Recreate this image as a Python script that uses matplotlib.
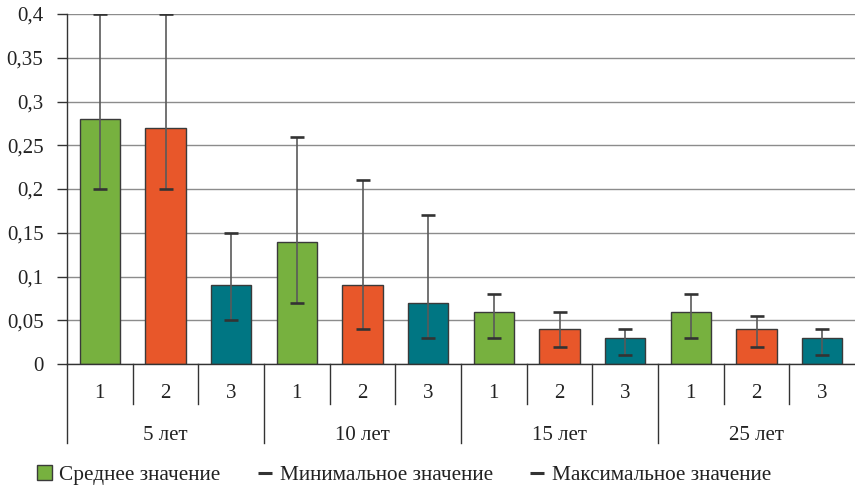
import matplotlib
matplotlib.use("Agg")
import matplotlib.pyplot as plt
from matplotlib.patches import Patch
from matplotlib.lines import Line2D
from matplotlib.ticker import FuncFormatter
import matplotlib.transforms as mtransforms

plt.rcParams['font.family'] = ['Liberation Serif', 'DejaVu Serif']

groups = ["5 лет", "10 лет", "15 лет", "25 лет"]
subcats = ["1", "2", "3"]
mean_vals = [0.28, 0.27, 0.09, 0.14, 0.09, 0.07, 0.06, 0.04, 0.03, 0.06, 0.04, 0.03]
min_vals = [0.20, 0.20, 0.05, 0.07, 0.04, 0.03, 0.03, 0.02, 0.01, 0.03, 0.02, 0.01]
max_vals = [0.40, 0.40, 0.15, 0.26, 0.21, 0.17, 0.08, 0.06, 0.04, 0.08, 0.055, 0.04]
legend_labels = ["Среднее значение", "Минимальное значение", "Максимальное значение"]
yticks = [0, 0.05, 0.1, 0.15, 0.2, 0.25, 0.3, 0.35, 0.4]

colors = ["#77B13F", "#E8572A", "#007683"]
edge = "#3a3a3a"
FS = 15

W, H = 855, 488
fig = plt.figure(figsize=(W / 100, H / 100), dpi=100)
ax = fig.add_axes([67 / W, (H - 364) / H, (W - 67) / W, 350 / H])

n = len(mean_vals)
xs = list(range(n))
bar_colors = [colors[i % 3] for i in range(n)]

ax.set_axisbelow(True)
ax.yaxis.grid(True, color="#8c8c8c", linewidth=1)
ax.bar(xs, mean_vals, width=0.61, color=bar_colors, edgecolor=edge, linewidth=1, zorder=2)

# error bars: vertical line min..max, dark caps
ax.vlines(xs, min_vals, max_vals, color="#5a5a5a", linewidth=1.2, zorder=3)
ax.scatter(xs, min_vals, marker='_', s=100, color="#333333", linewidths=1.9, zorder=4)
ax.scatter(xs, max_vals, marker='_', s=100, color="#333333", linewidths=1.9, zorder=4)

ax.set_xlim(-0.5, n - 0.5)
ax.set_ylim(0, 0.4)
ax.set_yticks(yticks)
ax.yaxis.set_major_formatter(FuncFormatter(lambda v, p: ("%g" % round(v, 2)).replace(".", ",")))
ax.tick_params(axis='y', length=7, width=1, color="#333333", labelsize=FS, pad=10, labelcolor="#222222")

for s in ["top", "right"]:
    ax.spines[s].set_visible(False)
ax.spines["left"].set_color("#333333")
ax.spines["bottom"].set_color("#333333")
ax.spines["left"].set_linewidth(1)
ax.spines["bottom"].set_linewidth(1)

ax.set_xticks([])
trans = mtransforms.blended_transform_factory(ax.transData, ax.transAxes)

# tier 1 labels and separators
for i in range(n):
    ax.text(xs[i], -0.085, subcats[i % 3], transform=trans, ha="center", va="center",
            fontsize=FS, color="#222222")
for k in range(n):
    b = k - 0.5
    y1 = -0.226 if k % 3 == 0 else -0.114
    ax.plot([b, b], [0, y1], transform=trans, color="#333333", linewidth=1, clip_on=False)

for g, name in enumerate(groups):
    ax.text(3 * g + 1, -0.203, name, transform=trans, ha="center", va="center",
            fontsize=FS, color="#222222")

handles = [
    Patch(facecolor=colors[0], edgecolor=edge, linewidth=1),
    Line2D([], [], color="#333333", marker='_', markersize=10.5, markeredgewidth=2.2, linestyle='None'),
    Line2D([], [], color="#333333", marker='_', markersize=10.5, markeredgewidth=2.2, linestyle='None'),
]
fig.legend(handles, legend_labels, loc="center left", bbox_to_anchor=(18 / W, 13 / H),
           ncol=3, frameon=False, fontsize=15.3, handlelength=0.7, handleheight=0.7,
           handletextpad=0.35, columnspacing=1.72, labelcolor="#222222")

fig.savefig("out.png", dpi=100)
